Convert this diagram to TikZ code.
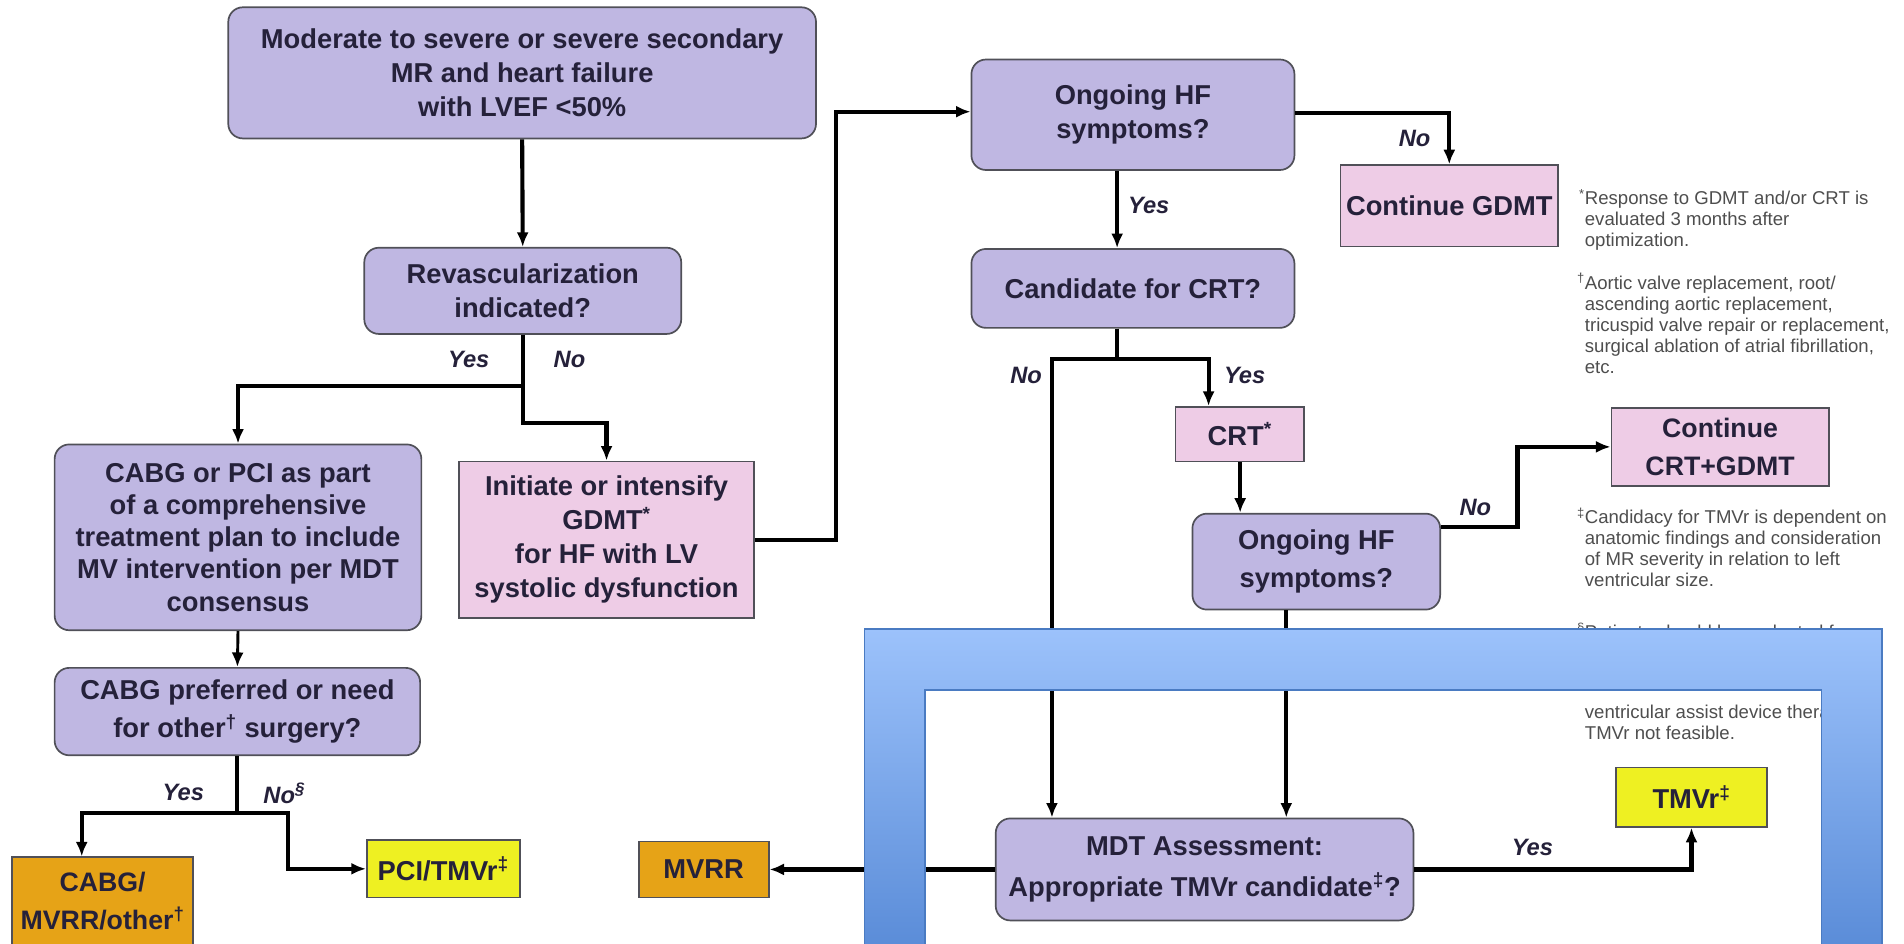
\documentclass[tikz,border=0pt]{standalone}
\usepackage{fontspec}
\setmainfont{Liberation Sans}
\usetikzlibrary{arrows.meta,calc}

\definecolor{lav}{HTML}{BFB7E2}
\definecolor{pinkbox}{HTML}{EECCE6}
\definecolor{orangebox}{HTML}{E6A317}
\definecolor{yellowbox}{HTML}{EEF022}
\definecolor{boxline}{HTML}{505058}
\definecolor{inktext}{HTML}{25213A}
\definecolor{notegray}{HTML}{4E4E4E}
\definecolor{frametop}{HTML}{9CC2FB}
\definecolor{framebot}{HTML}{5A8CD8}
\definecolor{frameedge}{HTML}{4A7BC2}

\tikzset{
  base/.style={draw=boxline, line width=1.4pt, text=inktext,
    font=\fontsize{22.5}{28}\selectfont\bfseries, align=center,
    inner sep=0pt, anchor=center},
  decision/.style={base, fill=lav, rounded corners=12pt},
  action/.style={base, fill=pinkbox},
  surgical/.style={base, fill=orangebox},
  transcath/.style={base, fill=yellowbox},
  flow/.style={line width=3.4pt, -{Latex[length=12pt,width=10pt]}},
  answer/.style={font=\fontsize{19.5}{22}\selectfont\bfseries\itshape,
    text=inktext, inner sep=0pt},
  note/.style={font=\fontsize{15.3}{17.3}\selectfont, text=notegray,
    align=left, inner sep=0pt, anchor=north west},
}

\begin{document}
\begin{tikzpicture}[x=1pt,y=-1pt]
\useasboundingbox (0,0) rectangle (1568,777);
\fill[white] (0,0) rectangle (1568,777);

% ---- left column: revascularization pathway
\node[decision, minimum width=484pt, minimum height=108pt] (top) at (430,60)
  {Moderate to severe or severe secondary\\MR and heart failure\\with LVEF <50\%};
\node[decision, minimum width=261pt, minimum height=71pt] (revasc) at (430.5,239.5)
  {Revascularization\\indicated?};
\node[decision, minimum width=302pt, minimum height=153pt,
      font=\fontsize{22.5}{26.5}\selectfont\bfseries] (cabg) at (196,442.5)
  {CABG or PCI as part\\of a comprehensive\\treatment plan to include\\MV intervention per MDT\\consensus};
\node[action, minimum width=243pt, minimum height=129pt] (initiate) at (499.5,444.5)
  {Initiate or intensify\\GDMT\textsuperscript{*}\\for HF with LV\\systolic dysfunction};
\node[decision, minimum width=301pt, minimum height=72pt,
      font=\fontsize{22.5}{31}\selectfont\bfseries] (cabgpref) at (195.5,586)
  {CABG preferred or need\\for other\textsuperscript{†} surgery?};
\node[surgical, minimum width=149pt, minimum height=72pt,
      font=\fontsize{22}{31}\selectfont\bfseries] (cabgmvrr) at (84.5,742)
  {CABG/\\MVRR/other\textsuperscript{†}};
\node[transcath, minimum width=126pt, minimum height=47pt] (pcitmvr) at (365,715.5)
  {PCI/TMVr\textsuperscript{‡}};
\node[surgical, minimum width=107pt, minimum height=46pt] (mvrr) at (579.5,716)
  {MVRR};

% ---- right column: GDMT / CRT pathway
\node[decision, minimum width=266pt, minimum height=91pt] (ongoing1) at (933,94.5)
  {Ongoing HF\\symptoms?};
\node[action, minimum width=179pt, minimum height=67pt] (contgdmt) at (1193.5,169.5)
  {Continue GDMT};
\node[decision, minimum width=266pt, minimum height=65pt] (cand) at (933,237.5)
  {Candidate for CRT?};
\node[action, minimum width=106pt, minimum height=45pt] (crt) at (1021,357.5)
  {CRT\textsuperscript{*}};
\node[decision, minimum width=204pt, minimum height=79pt,
      font=\fontsize{22.5}{31}\selectfont\bfseries] (ongoing2) at (1084,462.5)
  {Ongoing HF\\symptoms?};
\node[action, minimum width=179pt, minimum height=64pt,
      font=\fontsize{22}{31}\selectfont\bfseries] (contcrt) at (1416.5,368)
  {Continue\\CRT+GDMT};
\node[decision, minimum width=344pt, minimum height=84pt,
      font=\fontsize{22.5}{33}\selectfont\bfseries] (mdt) at (992,716)
  {MDT Assessment:\\Appropriate TMVr candidate\textsuperscript{‡}?};
\node[transcath, minimum width=124pt, minimum height=49pt] (tmvr) at (1393,656.5)
  {TMVr\textsuperscript{‡}};

% ---- footnotes
\node[note] (fn1) at (1305,156)
  {\llap{\textsuperscript{*}}Response to GDMT and/or CRT is\\evaluated 3 months after\\optimization.};
\node[note] (fn2) at (1305,225)
  {\llap{\textsuperscript{†}}Aortic valve replacement, root/\\ascending aortic replacement,\\tricuspid valve repair or replacement,\\surgical ablation of atrial fibrillation,\\etc.};
\node[note] (fn3) at (1305,418)
  {\llap{\textsuperscript{‡}}Candidacy for TMVr is dependent on\\anatomic findings and consideration\\of MR severity in relation to left\\ventricular size.};
\node[note] (fn4a) at (1305,513)
  {\llap{\textsuperscript{§}}Patients should be evaluated for};
\node[note] (fn4b) at (1305,580)
  {ventricular assist device therapy if\\TMVr not feasible.};

% ---- connectors
\coordinate (revfork) at ($(revasc.south)+(0,42)$);
\draw[flow] (top.south) -- (revasc.north);
\draw[flow] (revasc.south) -- (revfork) -| (cabg.north);
\draw[flow] (revasc.south) -- ($(revfork)+(0,31)$) -| (initiate.north);
\draw[flow] (initiate.east) -- ++(66.5,0) |- ($(ongoing1.west)+(0,-2.5)$);
\draw[flow] ($(ongoing1.east)+(0,-1.5)$) -| (contgdmt.north);
\draw[flow] ($(ongoing1.south)+(-13,0)$) -- ($(cand.north)+(-13,0)$);

\coordinate (crtfork) at ($(cand.south)+(-13,25)$);
\draw[flow] ($(cand.south)+(-13,0)$) -- (crtfork) -| ($(mdt.north west)+(47,0)$);
\draw[flow] ($(cand.south)+(-13,0)$) -- (crtfork) -| ($(crt.north west)+(28,0)$);
\draw[flow] ($(crt.south west)+(54,0)$) -- ($(ongoing2.north west)+(40,0)$);
\draw[flow] ($(ongoing2.north east)+(0,12)$) -- ++(63,0) |- (contcrt.west);
\draw[flow] ($(ongoing2.south west)+(78,0)$) -- ($(mdt.north west)+(240,0)$);
\draw[flow] (mdt.west) -- (mvrr.east);
\draw[flow] (mdt.east) -| (tmvr.south);

\draw[flow, line width=2.4pt] (cabg.south) -- (cabgpref.north);
\coordinate (surgfork) at ($(cabgpref.south)+(0,47)$);
\draw[flow] (cabgpref.south) -- (surgfork) -| ($(cabgmvrr.north west)+(58,0)$);
\draw[flow] (cabgpref.south) -- (surgfork) -- ++(42,0) |- (pcitmvr.west);

% ---- branch answers
\node[answer] (revyes) at (386,296) {Yes};
\node[answer] (revno) at (469,296) {No};
\node[answer] (hf1no) at (1165,114) {No};
\node[answer] (hf1yes) at (946,169) {Yes};
\node[answer] (candno) at (845,309) {No};
\node[answer] (candyes) at (1025,309) {Yes};
\node[answer] (hf2no) at (1215,418) {No};
\node[answer] (mdtyes) at (1262,698) {Yes};
\node[answer] (prefyes) at (151,653) {Yes};
\node[answer] (prefno) at (234,653) {No\textsuperscript{§}};

% ---- blue frame laid over the lower right part
\path[draw=frameedge, line width=1.5pt, top color=frametop, bottom color=framebot]
  (712,781) -- (712,518) -- (1550,518) -- (1550,781) -- (1500,781)
  -- (1500,568) -- (762,568) -- (762,781) -- cycle;
\end{tikzpicture}
\end{document}
